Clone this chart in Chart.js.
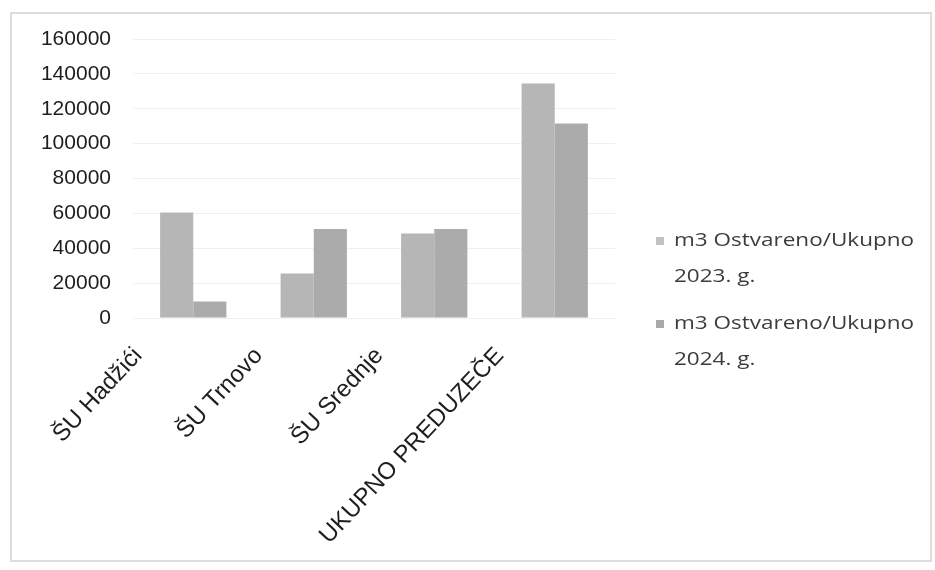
<!DOCTYPE html>
<html>
<head>
<meta charset="utf-8">
<script src="https://cdn.jsdelivr.net/npm/chart.js@4"></script>
<style>
  html, body { margin: 0; padding: 0; background: #fff; }
  #wrap { position: relative; width: 935px; height: 570px; }
  #frame {
    position: absolute; left: 10px; top: 12px; width: 922px; height: 550px;
    border: 2px solid #dcdcdc; box-sizing: border-box;
  }
  #chart { position: absolute; left: 0; top: 0; }
</style>
</head>
<body>
<div id="wrap">
  <div id="frame"></div>
  <canvas id="chart" width="935" height="570"></canvas>
</div>
<script>
// ===== data =====
const categories = ['ŠU Hadžići', 'ŠU Trnovo', 'ŠU Srednje', 'UKUPNO PREDUZEČE'];
const seriesLabels = [
  ['m3 Ostvareno/Ukupno', '2023. g.'],
  ['m3 Ostvareno/Ukupno', '2024. g.']
];
const values2023 = [60500, 25500, 48500, 134500];
const values2024 = [9500, 51000, 51000, 111500];
const yMax = 160000;
const yStep = 20000;

const barColors = ['#b6b6b6', '#ababab'];
const legendColors = ['#c2c2c2', '#a9a9a9'];

// legend drawn by hand so the labels can wrap on two lines
const sideLegend = {
  id: 'sideLegend',
  afterDraw(chart) {
    const ctx = chart.ctx;
    const x = 656, tops = [237, 320];
    ctx.save();
    chart.data.datasets.forEach((ds, i) => {
      ctx.fillStyle = legendColors[i];
      ctx.fillRect(x, tops[i], 8, 8);
      ctx.fillStyle = '#3c3c3c';
      ctx.font = '18px "Open Sans"';
      ctx.textBaseline = 'middle';
      ds.label.forEach((line, j) => {
        ctx.save();
        ctx.translate(674, tops[i] + 4 + j * 36);
        ctx.scale(1.25, 1);
        ctx.fillText(line, 0, 0);
        ctx.restore();
      });
    });
    ctx.restore();
  }
};

let chartInstance = null;
function renderChart() {
  const ctx = document.getElementById('chart').getContext('2d');
  if (chartInstance) chartInstance.destroy();

  chartInstance = new Chart(ctx, {
    type: 'bar',
    data: {
      labels: categories,
      datasets: [
        { label: seriesLabels[0], data: values2023, backgroundColor: barColors[0] },
        { label: seriesLabels[1], data: values2024, backgroundColor: barColors[1] }
      ]
    },
    options: {
      responsive: false,
      animation: false,
      layout: { padding: { left: 20, right: 320, top: 39, bottom: 12 } },
      datasets: { bar: { categoryPercentage: 0.55, barPercentage: 1.0 } },
      plugins: {
        legend: { display: false },
        tooltip: { enabled: false }
      },
      scales: {
        x: {
          grid: { display: false },
          border: { display: false },
          ticks: {
            color: '#1e1e1e',
            font: { family: '"Liberation Sans", Arial', size: 24 },
            minRotation: 47, maxRotation: 47,
            autoSkip: false,
            labelOffset: -55,
            padding: 16
          },
          afterFit(scale) { scale.height = 240; }
        },
        y: {
          min: 0, max: yMax,
          grid: { color: '#efefef', drawTicks: false },
          border: { display: false },
          ticks: {
            stepSize: yStep,
            color: '#1e1e1e',
            font: { family: '"Liberation Sans", Arial', size: 21 },
            padding: 22,
            callback: v => String(v)
          },
          afterFit(scale) { scale.width = 113; }
        }
      }
    },
    plugins: [sideLegend]
  });
}

document.addEventListener('DOMContentLoaded', renderChart);
</script>
</body>
</html>
